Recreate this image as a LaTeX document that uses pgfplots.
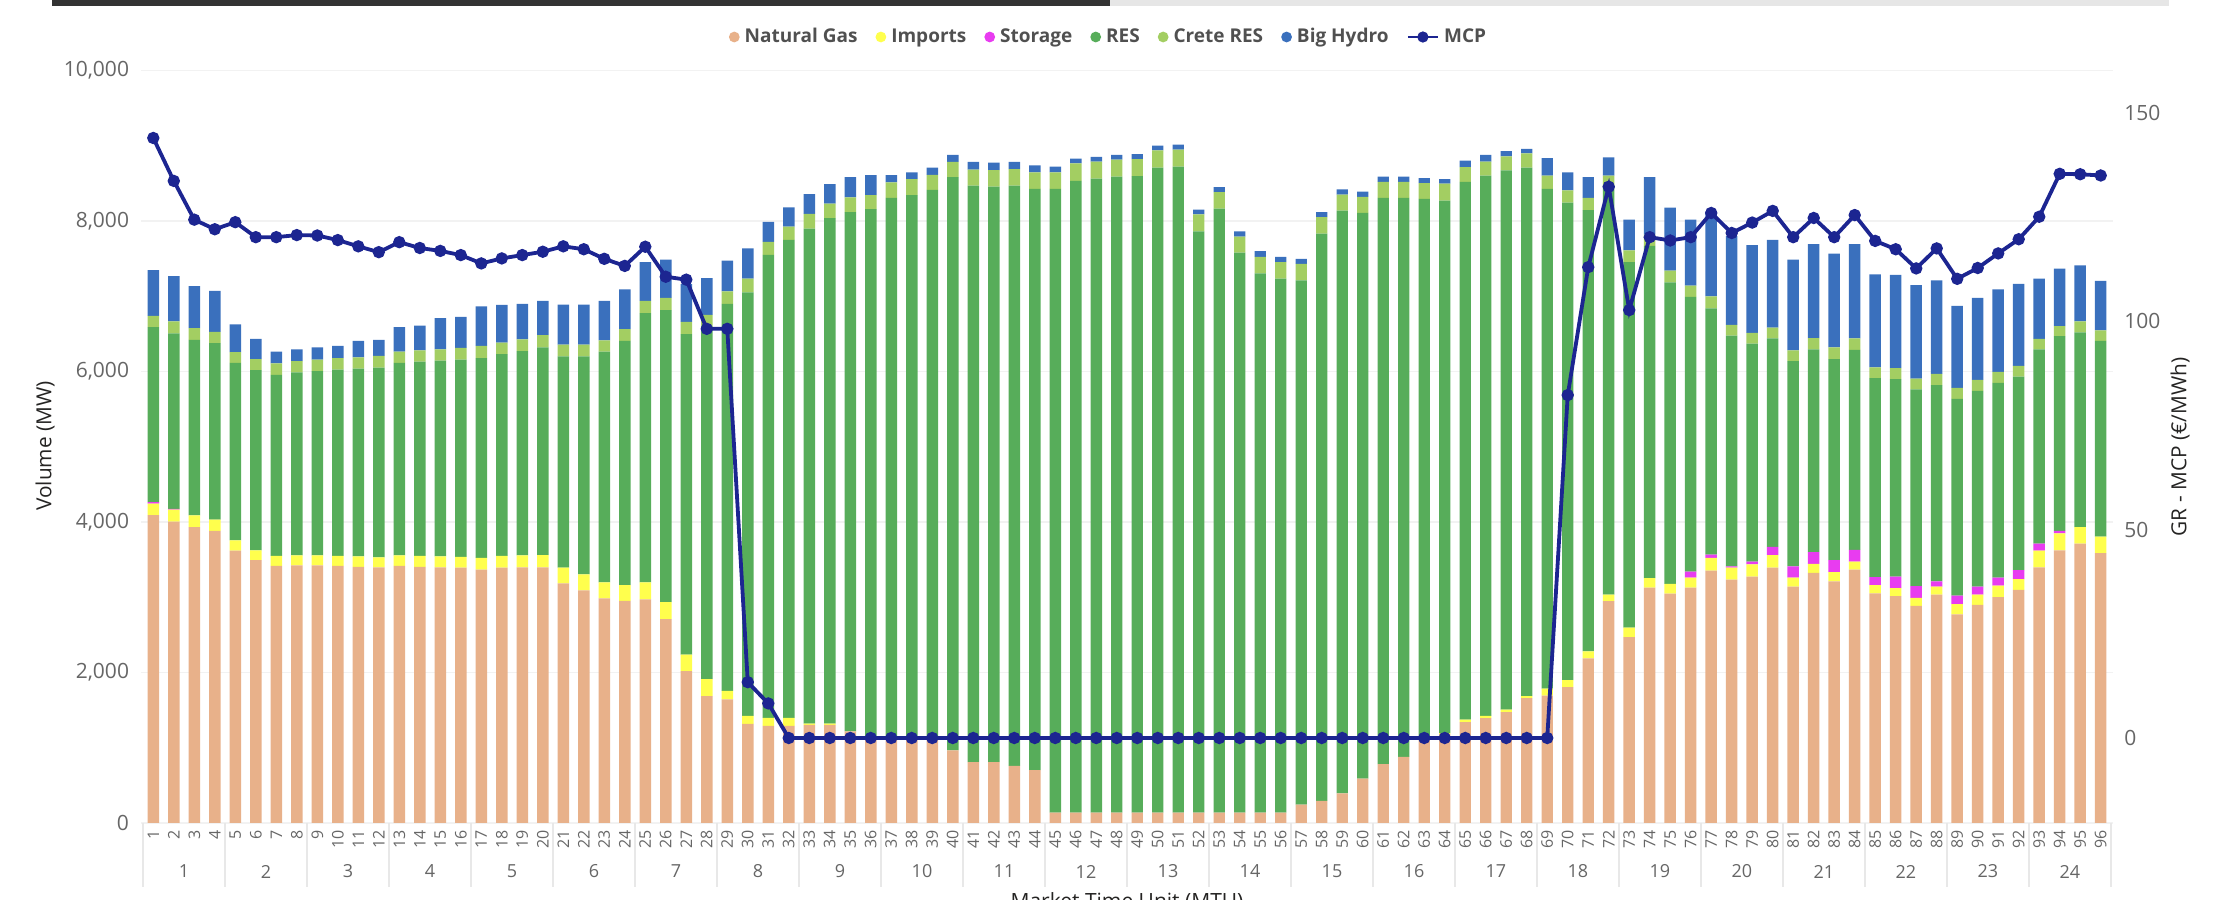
\documentclass[border=0pt]{standalone}
\usepackage{fontspec}
\setmainfont{Open Sans}
\usepackage{pgfplots}
\usepackage{pgfplotstable}
\pgfplotsset{compat=1.18}
\definecolor{cng}{RGB}{232,177,138}
\definecolor{cimp}{RGB}{255,255,77}
\definecolor{csto}{RGB}{232,60,240}
\definecolor{cres}{RGB}{87,173,90}
\definecolor{ccre}{RGB}{163,206,98}
\definecolor{chyd}{RGB}{58,112,189}
\definecolor{cmcp}{RGB}{28,37,145}
\definecolor{ctick}{RGB}{102,102,102}
\definecolor{cgrid}{RGB}{242,242,242}
\definecolor{csep}{RGB}{232,232,232}
\definecolor{cleg}{RGB}{80,80,80}
\definecolor{cdark}{RGB}{37,36,35}
\definecolor{ctop}{RGB}{51,51,51}
\definecolor{ctopl}{RGB}{230,230,230}

\pgfplotstableread{
x ng imp sto res cre hyd mcp
1 4090 155 18 2326 151 608 144.0
2 4006 157 12 2333 157 601 133.7
3 3931 157 0 2332 157 558 124.4
4 3881 150 0 2345 151 545 122.1
5 3618 137 0 2358 144 370 123.8
6 3492 132 0 2395 144 270 120.2
7 3417 132 0 2407 151 156 120.2
8 3423 132 0 2432 151 157 120.7
9 3423 132 0 2451 151 163 120.6
10 3417 132 0 2476 151 163 119.5
11 3404 138 0 2496 150 220 118.0
12 3398 132 0 2520 157 213 116.6
13 3417 138 0 2558 150 326 119.0
14 3404 145 0 2583 150 326 117.6
15 3398 144 0 2602 151 413 116.9
16 3392 144 0 2621 156 414 115.9
17 3367 157 0 2652 163 526 113.9
18 3392 157 0 2683 150 502 115.1
19 3398 157 0 2715 156 471 115.9
20 3398 163 0 2759 163 457 116.7
21 3185 207 0 2809 156 533 118.0
22 3091 213 0 2897 156 533 117.3
23 2984 213 0 3066 151 526 115.0
24 2953 207 0 3248 156 527 113.3
25 2972 225 0 3580 163 515 117.9
26 2708 226 0 3881 163 508 110.7
27 2019 219 0 4257 163 502 110.0
28 1687 225 0 4696 144 489 98.2
29 1643 112 0 5142 169 407 98.2
30 1317 106 0 5630 182 401 13.4
31 1292 106 0 6151 175 263 8.3
32 1292 106 0 6351 176 257 0
33 1304 15 0 6581 194 263 0
34 1304 15 0 6719 194 257 0
35 1216 0 0 6903 194 270 0
36 1141 0 0 7016 188 263 0
37 1141 0 0 7166 207 94 0
38 1141 0 0 7204 213 88 0
39 1141 0 0 7273 200 94 0
40 966 0 0 7617 201 94 0
41 809 0 0 7661 213 101 0
42 809 0 0 7649 219 100 0
43 759 0 0 7711 220 94 0
44 702 0 0 7724 220 94 0
45 138 0 0 8288 220 75 0
46 138 0 0 8395 232 63 0
47 138 0 0 8426 226 63 0
48 138 0 0 8451 226 63 0
49 138 0 0 8458 225 69 0
50 138 0 0 8570 232 63 0
51 138 0 0 8583 226 69 0
52 138 0 0 7724 226 62 0
53 138 0 0 8025 219 69 0
54 138 0 0 7442 213 69 0
55 138 0 0 7166 220 75 0
56 138 0 0 7097 220 69 0
57 245 0 0 6965 219 69 0
58 295 0 0 7536 219 69 0
59 395 0 0 7743 213 69 0
60 589 0 0 7518 213 69 0
61 784 0 0 7523 213 69 0
62 878 0 0 7429 213 69 0
63 1097 0 0 7198 207 69 0
64 1185 10 0 7075 225 60 0
65 1342 31 0 7147 195 88 0
66 1392 31 0 7179 188 88 0
67 1473 32 0 7166 188 69 0
68 1661 26 0 7021 189 62 0
69 1693 94 0 6639 176 232 0
70 1806 94 0 6345 163 238 82.3
71 2188 94 0 5862 163 276 113.0
72 2947 87 0 5442 126 244 132.3
73 2470 126 0 4859 156 408 102.7
74 3129 125 0 4414 150 765 120.2
75 3047 132 0 4006 157 834 119.4
76 3129 131 82 3649 150 878 120.2
77 3354 170 43 3273 157 1128 126.0
78 3235 157 19 3065 145 1178 121.2
79 3273 163 37 2897 144 1166 123.7
80 3392 169 107 2771 144 1166 126.5
81 3141 119 151 2727 144 1204 120.2
82 3323 119 157 2696 150 1248 124.8
83 3210 125 157 2671 157 1247 120.2
84 3367 106 157 2658 151 1254 125.5
85 3053 107 106 2646 144 1236 119.3
86 3016 106 151 2627 144 1241 117.3
87 2884 107 156 2615 144 1241 112.7
88 3034 107 69 2608 151 1241 117.5
89 2771 138 113 2615 144 1091 110.2
90 2897 137 107 2602 144 1091 112.8
91 3003 151 106 2590 144 1097 116.3
92 3097 144 119 2571 144 1091 119.7
93 3398 220 94 2583 138 802 125.1
94 3624 226 31 2589 132 765 135.4
95 3712 219 0 2589 145 746 135.3
96 3586 220 0 2602 137 659 135.0
}\data

\begin{document}
\begin{tikzpicture}
\useasboundingbox (0,0) rectangle (1106.5pt,450pt);
\fill[ctop] (26pt,447pt) rectangle (555pt,450pt);
\fill[ctopl] (555pt,447pt) rectangle (1084.5pt,450pt);

\begin{axis}[
  at={(70.5pt,38.5pt)}, anchor=south west,
  width=986pt, height=376.25pt, scale only axis,
  clip=false,
  ybar stacked, bar width=0.56,
  xmin=0.4, xmax=96.6, ymin=0, ymax=10000,
  xtick={1,...,96},
  ytick={0,2000,...,10000},
  scaled y ticks=false,
  axis line style={draw=none},
  major tick length=0pt,
  ymajorgrids, grid style={cgrid, line width=0.8pt},
  /pgf/number format/assume math mode=true,
  /pgf/number format/1000 sep={,},
  yticklabel style={font=\fontsize{10.5}{12}\selectfont, text=ctick, anchor=east, inner sep=0pt},
  yticklabel shift=5.8pt,
  xticklabel style={font=\fontsize{8}{9}\selectfont, text=ctick, rotate=90, anchor=east, inner sep=0pt},
  xticklabel shift=3.5pt,
  legend style={at={(0.4914,1.0445)}, anchor=center, draw=none, fill=none,
    legend columns=-1,
    font=\fontsize{9.5}{11}\selectfont\bfseries,
    nodes={text=cleg, inner xsep=2.5pt, inner ysep=0pt},
    /tikz/every even column/.append style={column sep=6.5pt}},
]
\addplot[fill=cng, draw=none, legend image code/.code={\fill[cng] (2.7pt,0pt) circle (2.7pt);}] table[x=x,y=ng]{\data};
\addlegendentry{Natural Gas}
\addplot[fill=cimp, draw=none, legend image code/.code={\fill[cimp] (2.7pt,0pt) circle (2.7pt);}] table[x=x,y=imp]{\data};
\addlegendentry{Imports}
\addplot[fill=csto, draw=none, legend image code/.code={\fill[csto] (2.7pt,0pt) circle (2.7pt);}] table[x=x,y=sto]{\data};
\addlegendentry{Storage}
\addplot[fill=cres, draw=none, legend image code/.code={\fill[cres] (2.7pt,0pt) circle (2.7pt);}] table[x=x,y=res]{\data};
\addlegendentry{RES}
\addplot[fill=ccre, draw=none, legend image code/.code={\fill[ccre] (2.7pt,0pt) circle (2.7pt);}] table[x=x,y=cre]{\data};
\addlegendentry{Crete RES}
\addplot[fill=chyd, draw=none, legend image code/.code={\fill[chyd] (2.7pt,0pt) circle (2.7pt);}] table[x=x,y=hyd]{\data};
\addlegendentry{Big Hydro}
\addlegendimage{legend image code/.code={\draw[cmcp,line width=1.3pt] (0pt,0pt) -- (15pt,0pt); \fill[cmcp] (7.5pt,0pt) circle (2.6pt);}}
\addlegendentry{MCP}

\pgfplotsinvokeforeach{0.5,4.5,8.5,12.5,16.5,20.5,24.5,28.5,32.5,36.5,40.5,44.5,48.5,52.5,56.5,60.5,64.5,68.5,72.5,76.5,80.5,84.5,88.5,92.5,96.5}{
  \draw[csep, line width=1pt] (axis cs:#1,0) -- ++(0pt,-32pt);
}
\pgfplotsinvokeforeach{1,...,24}{
  \node[font=\fontsize{9}{10}\selectfont, text=ctick, anchor=center, inner sep=0pt] at ([yshift=-24.25pt]axis cs:{4*#1-1.5},0) {#1};
}
\end{axis}

\begin{axis}[
  at={(70.5pt,38.5pt)}, anchor=south west,
  width=986pt, height=376.25pt, scale only axis,
  xmin=0.4, xmax=96.6, ymin=-20.4, ymax=160.2,
  axis x line=none, axis y line*=right,
  axis line style={draw=none},
  major tick length=0pt,
  ytick={0,50,100,150},
  /pgf/number format/assume math mode=true,
  yticklabel style={font=\fontsize{10.5}{12}\selectfont, text=ctick, anchor=west, inner sep=0pt},
  yticklabel shift=5.5pt,
]
\addplot[cmcp, line width=1.9pt, mark=*, mark size=2.1pt, mark options={fill=cmcp}] table[x=x,y=mcp]{\data};
\end{axis}

\node[rotate=90, font=\fontsize{10.4}{12}\selectfont, text=cdark] at (22.5pt,227pt) {Volume (MW)};
\node[rotate=90, font=\fontsize{10.4}{12}\selectfont, text=cdark] at (1090pt,226.5pt) {GR - MCP (€/MWh)};
\node[anchor=north, inner sep=0pt, font=\fontsize{10.5}{12}\selectfont, text=cdark] at (563.5pt,4pt) {Market Time Unit (MTU)};
\end{tikzpicture}
\end{document}
